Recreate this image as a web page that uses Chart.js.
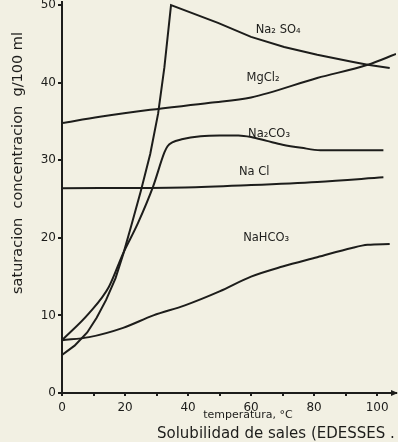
<!DOCTYPE html>
<html>
<head>
<meta charset="utf-8">
<script src="https://cdn.jsdelivr.net/npm/chart.js@4/dist/chart.umd.min.js"></script>
<style>
  html, body { margin: 0; padding: 0; background: #f2f0e3; }
  canvas { display: block; }
</style>
</head>
<body>
<canvas id="solubilityChart" width="398" height="442"></canvas>
<script>
// temperature (°C) and solubility (g/100 ml)
const na2so4Temp = [0, 4, 8, 11, 14, 17, 19.5, 22, 25, 28, 30.5, 32.5, 34.6, 49.5, 60, 70.5, 81, 92, 97, 104];
const na2so4Sol  = [4.9, 6.1, 7.8, 9.7, 12, 14.8, 18, 21.6, 26, 30.8, 36, 42, 50, 47.7, 45.9, 44.6, 43.6, 42.7, 42.3, 41.9];

const mgcl2Temp = [0, 12, 28, 47, 60, 81, 97, 106];
const mgcl2Sol  = [34.8, 35.6, 36.5, 37.4, 38.1, 40.6, 42.3, 43.7];

const na2co3Temp = [0, 8.6, 14.9, 19.4, 24.1, 28.9, 32.5, 33.5, 35, 38, 44, 50, 56, 60, 65, 70, 76, 82, 102];
const na2co3Sol  = [6.8, 10.3, 13.7, 18, 21.9, 26.6, 31, 31.8, 32.3, 32.7, 33.1, 33.2, 33.2, 33, 32.5, 32, 31.6, 31.3, 31.3];

const naclTemp = [0, 39, 60, 81, 102];
const naclSol  = [26.4, 26.5, 26.8, 27.2, 27.8];

const nahco3Temp = [0, 8.6, 19.4, 29, 39, 50, 60, 70, 81, 92, 97, 104];
const nahco3Sol  = [6.8, 7.2, 8.4, 10, 11.3, 13.1, 15, 16.3, 17.5, 18.7, 19.1, 19.2];

const xTickValues = [0, 10, 20, 30, 40, 50, 60, 70, 80, 90, 100];
const xTickLabels = [0, 20, 40, 60, 80, 100];
const yTickValues = [0, 10, 20, 30, 40, 50];

// curve names and where they are written (in chart units)
const curveNames = ['Na\u2082 SO\u2084', 'MgCl\u2082', 'Na\u2082CO\u2083', 'Na Cl', 'NaHCO\u2083'];
const nameAt = [[68.6, 46.8], [63.8, 40.6], [65.7, 33.4], [61, 28.5], [64.8, 20]];

const pts = (xs, ys) => xs.map((x, i) => ({ x: x, y: ys[i] }));
const ink = '#1d1d1b';

function curve(data, smooth) {
  return {
    data: data,
    borderColor: ink,
    borderWidth: 2,
    pointRadius: 0,
    fill: false,
    tension: smooth ? 0.4 : 0,
    cubicInterpolationMode: smooth ? 'monotone' : 'default'
  };
}

const paper = {
  id: 'paper',
  beforeDraw(chart) {
    const c = chart.ctx;
    c.save();
    c.fillStyle = '#f2f0e3';
    c.fillRect(0, 0, chart.width, chart.height);
    c.restore();
  },
  afterDraw(chart) {
    const c = chart.ctx;
    const xs = chart.scales.x, ys = chart.scales.y;
    c.save();
    c.fillStyle = ink;
    c.textAlign = 'center';
    c.textBaseline = 'middle';
    c.font = '11.5px "DejaVu Sans"';
    curveNames.forEach((name, i) => {
      c.fillText(name, xs.getPixelForValue(nameAt[i][0]), ys.getPixelForValue(nameAt[i][1]));
    });

    // arrow head on the temperature axis
    const ax = chart.chartArea.right, ay = chart.chartArea.bottom;
    c.beginPath();
    c.moveTo(ax + 2, ay);
    c.lineTo(ax - 5, ay - 3);
    c.lineTo(ax - 5, ay + 3);
    c.closePath();
    c.fill();

    c.font = '11px "DejaVu Sans"';
    c.fillText('temperatura, \u00b0C', 248, 415);
    c.textAlign = 'left';
    c.font = '15px "DejaVu Sans"';
    c.fillText('Solubilidad de sales (EDESSES .', 157, 434);

    c.translate(18, 163);
    c.rotate(-Math.PI / 2);
    c.textAlign = 'center';
    c.font = '14.5px "DejaVu Sans"';
    c.fillText('saturacion  concentracion  g/100 ml', 0, 0);
    c.restore();
  }
};

new Chart(document.getElementById('solubilityChart'), {
  type: 'line',
  data: {
    datasets: [
      curve(pts(na2so4Temp, na2so4Sol), false),
      curve(pts(mgcl2Temp, mgcl2Sol), true),
      curve(pts(na2co3Temp, na2co3Sol), true),
      curve(pts(naclTemp, naclSol), true),
      curve(pts(nahco3Temp, nahco3Sol), true)
    ]
  },
  options: {
    responsive: false,
    animation: false,
    layout: { autoPadding: false, padding: { top: 0, right: 2, left: 0, bottom: 0 } },
    plugins: { legend: { display: false }, tooltip: { enabled: false } },
    scales: {
      x: {
        type: 'linear',
        min: 0,
        max: 106,
        afterBuildTicks: s => { s.ticks = xTickValues.map(v => ({ value: v })); },
        afterFit: s => { s.height = 49; },
        border: { display: true, color: ink, width: 2 },
        grid: { drawOnChartArea: false, color: ink, tickLength: 3, lineWidth: 2 },
        ticks: {
          padding: 5,
          color: ink,
          font: { family: 'DejaVu Sans', size: 12 },
          callback: v => xTickLabels.includes(v) ? String(v) : ''
        }
      },
      y: {
        min: 0,
        max: 50.39,
        afterBuildTicks: s => { s.ticks = yTickValues.map(v => ({ value: v })); },
        afterFit: s => { s.width = 62; },
        border: { display: true, color: ink, width: 2 },
        grid: { drawOnChartArea: false, color: ink, tickLength: 4, lineWidth: 2 },
        ticks: {
          padding: 2,
          color: ink,
          font: { family: 'DejaVu Sans', size: 12, lineHeight: 0.01 }
        }
      }
    }
  },
  plugins: [paper]
});
</script>
</body>
</html>
